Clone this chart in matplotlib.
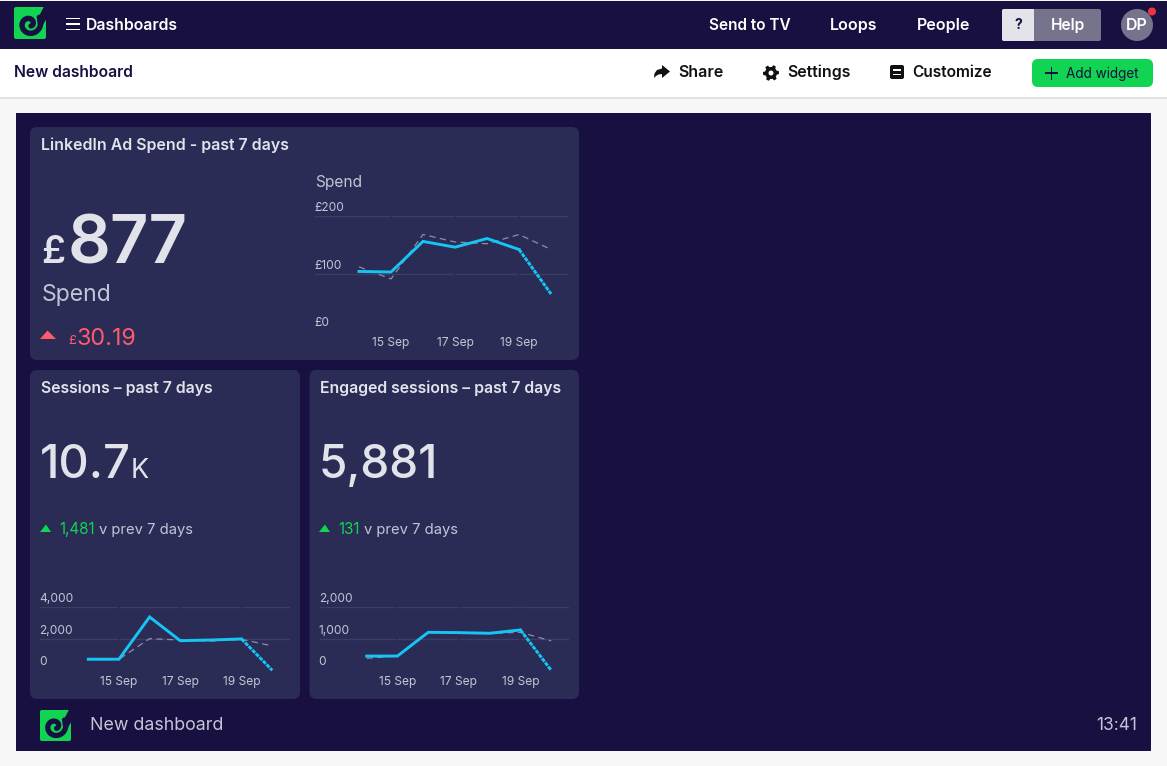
import numpy as np
import matplotlib
matplotlib.use("Agg")
import matplotlib.pyplot as plt
from matplotlib.patches import FancyBboxPatch, Rectangle, Circle, Polygon
from matplotlib.transforms import ScaledTranslation

plt.rcParams['font.family'] = ['Inter', 'Noto Sans', 'DejaVu Sans']

# ---- data ----
days = ['14 Sep', '15 Sep', '16 Sep', '17 Sep', '18 Sep', '19 Sep', '20 Sep']
tick_days = ['15 Sep', '17 Sep', '19 Sep']

spend_now = [104, 103, 156, 146, 161, 142, 65]
spend_prev = [112, 91, 168, 155, 152, 168, 142]
spend_ticks = [0, 100, 200]
spend_labels = ['£0', '£100', '£200']

sessions_now = [700, 700, 3370, 1870, 1915, 1980, 0]
sessions_prev = [700, 700, 2000, 1915, 1850, 1960, 1540]
sessions_ticks = [0, 2000, 4000]
sessions_labels = ['0', '2,000', '4,000']

engaged_now = [450, 450, 1200, 1190, 1170, 1275, 0]
engaged_prev = [380, 450, 1200, 1190, 1170, 1200, 930]
engaged_ticks = [0, 1000, 2000]
engaged_labels = ['0', '1,000', '2,000']

# ---- palette ----
NAVY = '#171040'
CARD = '#2a2c55'
GRID = '#3c3e66'
BLUE = '#16c5f5'
GREEN = '#11d452'
RED = '#ff5a6e'
LIGHT = '#e2e3ea'
SOFT = '#c3c5d6'
INK = '#111111'
W, H = 1167, 766

fig = plt.figure(figsize=(W / 100, H / 100), dpi=100, facecolor='#f7f7f7')
ui = fig.add_axes([0, 0, 1, 1])
ui.set_xlim(0, W)
ui.set_ylim(H, 0)
ui.axis('off')


def rect(x0, y0, x1, y1, color, z=1):
    ui.add_patch(Rectangle((x0, y0), x1 - x0, y1 - y0, fc=color, ec='none', zorder=z))


def rrect(x0, y0, x1, y1, color, r=6, z=1):
    ui.add_patch(FancyBboxPatch((x0 + r, y0 + r), x1 - x0 - 2 * r, y1 - y0 - 2 * r,
                                boxstyle=f'round,pad={r},rounding_size={r}',
                                fc=color, ec='none', zorder=z))


def txt(x, y, s, px, color='white', weight='normal', ha='left', va='center', z=5):
    ui.text(x, y + 1.2, s, fontsize=px * 0.72, color=color, fontweight=weight, ha=ha, va=va, zorder=z)


def logo(x, y, s, bg):
    k = s / 32
    rrect(x, y, x + s, y + s, GREEN, r=2 * k, z=3)
    ui.add_patch(Polygon([(x + 30 * k, y - 0.5), (x + s + 0.5, y - 0.5), (x + s + 0.5, y + 12 * k),
                          (x + 25 * k, y + 24 * k), (x + 23 * k, y + 13 * k)],
                         fc=bg, ec='none', zorder=4))
    t = np.linspace(-0.6, 2.0 * np.pi + 0.9, 120)
    r = 2.5 + (t + 0.6) * 1.2
    cx, cy = x + 15.5 * k, y + 17 * k
    ui.plot(cx + k * r * np.cos(-t + 0.3), cy + k * r * np.sin(-t + 0.3),
            color=bg, lw=3.9 * k, solid_capstyle='round', zorder=4)


def gear(cx, cy, color, hole):
    a = np.linspace(0, 2 * np.pi, 48, endpoint=False)
    rad = np.where((np.floor(a / (2 * np.pi / 6) + 0.25) % 1 == 0) & ((a / (2 * np.pi / 6) + 0.25) % 1 < 0.5), 8, 6)
    ui.add_patch(Polygon(np.c_[cx + rad * np.cos(a), cy + rad * np.sin(a)], fc=color, ec='none', zorder=5))
    ui.add_patch(Circle((cx, cy), 2.5, fc=hole, ec='none', zorder=6))


# ---- page chrome ----
rect(0, 1, W, 49, NAVY)
rect(0, 49, W, 97, 'white')
rect(0, 97, W, 98.5, '#e0e0e8')
rect(16, 113, 1151, 751, NAVY)
rrect(30, 127, 579, 360, CARD, r=7, z=2)
rrect(30, 370, 300, 699, CARD, r=7, z=2)
rrect(309.5, 370, 579, 699, CARD, r=7, z=2)

logo(14, 7, 32, NAVY)
for yy in (18.5, 24, 29.5):
    rect(66, yy - 0.6, 80, yy + 0.6, 'white', z=3)
txt(86, 24, 'Dashboards', 15.8, weight='semibold')
txt(709, 24, 'Send to TV', 15.4, weight='semibold')
txt(830, 24, 'Loops', 16, weight='semibold')
txt(917, 24, 'People', 16, weight='semibold')
rrect(1002, 9, 1101, 41, '#76738c', r=2, z=3)
rrect(1002, 9, 1034, 41, '#e3e4ea', r=2, z=3)
rect(1030, 9, 1034, 41, '#e3e4ea', z=3)
txt(1018, 24, '?', 14, NAVY, 'bold', ha='center')
txt(1067.5, 24, 'Help', 15.5, weight='semibold', ha='center')
ui.add_patch(Circle((1137, 25), 16, fc='#76738c', ec='none', zorder=3))
txt(1137, 24, 'DP', 16, weight='semibold', ha='center')
ui.add_patch(Circle((1152, 11.5), 4, fc='#f0343c', ec='none', zorder=4))

txt(14, 71.5, 'New dashboard', 15.7, NAVY, 'semibold')
ui.add_patch(Polygon([(654, 78), (654.5, 73.5), (657, 70), (662, 68.5), (662, 65), (670, 71.5), (662, 78),
                      (662, 74), (658.5, 74.5), (656, 76)], fc=INK, ec='none', zorder=5))
txt(678, 71.5, 'Share', 16, INK, 'semibold')
gear(771, 73, INK, 'white')
txt(787, 71.5, 'Settings', 15.9, INK, 'semibold')
rrect(890, 65, 904, 79, INK, r=2, z=5)
rect(893, 69, 901, 70.5, 'white', z=6)
rect(893, 73.5, 901, 75, 'white', z=6)
txt(912, 71.5, 'Customize', 15.5, INK, 'semibold')
rrect(1032, 59, 1153, 87, GREEN, r=6, z=3)
rect(1045, 72.3, 1058, 73.7, NAVY, z=5)
rect(1050.8, 66.5, 1052.2, 79.5, NAVY, z=5)
txt(1066, 72.5, 'Add widget', 13.5, NAVY)

# ---- card 1 ----
txt(41, 144.5, 'LinkedIn Ad Spend - past 7 days', 15.9, LIGHT, 'semibold')
txt(41, 252, '£', 38, LIGHT, 'semibold')
txt(68, 245, '877', 67, LIGHT, 'semibold')
txt(42, 294, 'Spend', 23, SOFT)
ui.add_patch(Polygon([(40, 339), (47.5, 330.5), (56, 339)], fc=RED, ec='none', zorder=5))
txt(68, 340, '£', 13, RED)
txt(77, 338, '30.19', 23.3, RED)
txt(315, 181, 'Spend', 15.5, SOFT)

# ---- card 2 ----
txt(41, 387, 'Sessions – past 7 days', 15.8, LIGHT, 'semibold')
txt(40, 465, '10.7', 47, LIGHT, 'medium')
txt(131, 470, 'K', 27, LIGHT)
ui.add_patch(Polygon([(40, 532), (46, 524.5), (51, 532)], fc=GREEN, ec='none', zorder=5))
txt(59, 528.5, '1,481', 15.2, GREEN)
txt(99, 528.5, 'v prev 7 days', 14.8, SOFT)

# ---- card 3 ----
txt(320, 387, 'Engaged sessions – past 7 days', 15.8, LIGHT, 'semibold')
txt(319, 465, '5,881', 46, LIGHT, 'medium')
ui.add_patch(Polygon([(319, 532), (325, 524.5), (330, 532)], fc=GREEN, ec='none', zorder=5))
txt(338, 528.5, '131', 15.2, GREEN)
txt(364, 528.5, 'v prev 7 days', 14.8, SOFT)

# ---- footer ----
logo(40, 710, 31, NAVY)
txt(90, 724.5, 'New dashboard', 17.8, SOFT)
txt(1137, 724.5, '13:41', 17.3, SOFT, ha='right')


# ---- charts ----
def chart(box, xlim, now, prev, ticks, labels, ymax):
    x0, y0, x1, y1 = box
    ax = fig.add_axes([x0 / W, 1 - y1 / H, (x1 - x0) / W, (y1 - y0) / H])
    ax.patch.set_alpha(0)
    for s in ax.spines.values():
        s.set_visible(False)
    x = np.arange(len(days))
    ax.plot(x, prev, color='#8d8ea6', lw=0.9, dashes=(5, 3.5), zorder=3)
    ax.plot(x[:-1], now[:-1], color=BLUE, lw=2.1, zorder=4, solid_joinstyle='miter')
    ax.plot(x[-2:], now[-2:], color=BLUE, lw=2.1, dashes=(1.4, 0.35), zorder=4, clip_on=False)
    ax.set_xlim(*xlim)
    ax.set_ylim(0, ymax)
    ax.set_xticks([days.index(d) for d in tick_days], tick_days)
    ax.set_yticks(ticks, labels)
    ax.tick_params(axis='both', length=0, labelsize=12 * 0.72, colors=SOFT)
    ax.tick_params(axis='x', pad=4)
    ax.tick_params(axis='y', pad=0)
    ax.set_axisbelow(True)
    ax.grid(axis='y', color=GRID, lw=1)
    ax.grid(axis='x', color=CARD, lw=1.2)
    ax.yaxis.set_zorder(0.5)
    ax.xaxis.set_zorder(0.6)
    # y labels sit inside the plot, starting at its left edge, just above each gridline
    lift = ScaledTranslation(-0.8 / 100, 2 / 100, fig.dpi_scale_trans)
    for lab in ax.get_yticklabels():
        lab.set_ha('left')
        lab.set_va('bottom')
        lab.set_x(0)
        lab.set_transform(ax.get_yaxis_transform(which='grid') + lift)
    return ax


chart((315, 216, 568, 331.5), (-1.375, 6.53), spend_now, spend_prev,
      spend_ticks, spend_labels, 200)
chart((40, 607, 290, 670.3), (-1.575, 6.58), sessions_now, sessions_prev,
      sessions_ticks, sessions_labels, 4000)
chart((319.5, 607, 569, 670.3), (-1.535, 6.58), engaged_now, engaged_prev,
      engaged_ticks, engaged_labels, 2000)

fig.savefig('out.png', dpi=100, facecolor=fig.get_facecolor())
